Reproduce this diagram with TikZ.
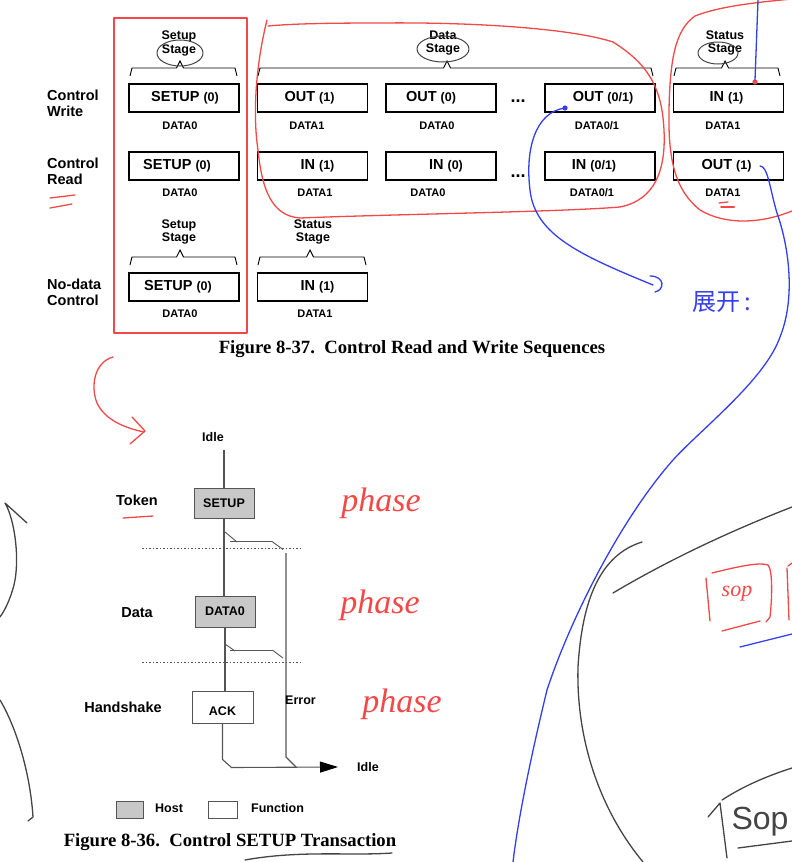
\documentclass[tikz,border=0pt]{standalone}
\usepackage{fontspec}
\setmainfont{Liberation Sans}
\newfontfamily\capfont{Liberation Serif}
\newfontfamily\cjkfont{Noto Sans CJK SC}
\usetikzlibrary{arrows.meta, positioning}

\definecolor{penred}{RGB}{242,72,72}
\definecolor{penblue}{RGB}{52,62,238}
\definecolor{pengrey}{RGB}{68,68,68}
\definecolor{hostgrey}{RGB}{200,200,200}
\definecolor{wiregrey}{RGB}{85,85,85}

\newcommand{\fs}[1]{\fontsize{#1}{#1}\selectfont}
\newcommand{\sm}[1]{{\fs{12.5}#1}}
% stage brace: left x, right x, peak x, top y
\newcommand{\stagebrace}[4]{%
  \draw[brace] (#1,#4+8) -- (#1+2,#4) -- (#3-3.5,#4) -- (#3,#4-7) -- (#3+3.5,#4) -- (#2-2,#4) -- (#2,#4+8);}

\tikzset{
  pkt/.style={draw, line width=1.8pt, minimum width=110pt, minimum height=28.5pt, inner sep=0pt},
  pkttxt/.style={font=\bfseries\fs{14.5}, inner sep=0pt},
  pid/.style={font=\bfseries\fs{11}, inner sep=0pt},
  rowlab/.style={font=\bfseries\fontsize{14.5}{16}\selectfont, align=left, anchor=west, inner sep=0pt},
  stagelab/.style={font=\bfseries\fontsize{12.5}{13.5}\selectfont, align=center, inner sep=0pt},
  brace/.style={line width=0.9pt},
  hostbox/.style={draw=wiregrey, line width=1pt, fill=hostgrey, minimum width=60pt, minimum height=30pt, inner sep=0pt, font=\bfseries\fs{12.5}},
  funcbox/.style={hostbox, fill=white},
  wire/.style={draw=wiregrey, line width=1.1pt},
  phaselab/.style={font=\bfseries\fs{14.5}, inner sep=0pt},
  smalllab/.style={font=\bfseries\fs{12.5}, inner sep=0pt},
  ink/.style={line width=1.3pt, line cap=round, line join=round},
  scrawl/.style={font=\capfont\itshape\fs{34}, inner sep=0pt}
}

\begin{document}
\begin{tikzpicture}[x=1pt,y=-1pt]
  \useasboundingbox (0,0) rectangle (792,862);

  % Figure 8-37
  \node[rowlab] (lcw) at (47,103) {Control\\Write};
  \node[rowlab] (lcr) at (47,171) {Control\\Read};
  \node[rowlab] (lnd) at (47,292) {No-data\\Control};

  \node[stagelab] (ss1) at (179,43.5) {Setup\\Stage};
  \node[stagelab] (ds1) at (443,43) {Data\\Stage};
  \node[stagelab] (st1) at (725,43) {Status\\Stage};
  \node[stagelab] (ss3) at (179,232) {Setup\\Stage};
  \node[stagelab] (st3) at (313,232) {Status\\Stage};

  \stagebrace{130}{237}{180}{68}
  \stagebrace{258}{653}{447}{68}
  \stagebrace{674}{780}{725}{68}
  \stagebrace{130}{237}{180}{257}
  \stagebrace{258}{366}{310}{257}

  % control write
  \node[pkt, label={[pkttxt, xshift=1pt]center:SETUP \sm{(0)}}] (cw1) at (184,98) {};
  \node[pkt, label={[pkttxt, xshift=-3pt]center:OUT \sm{(1)}}] (cw2) at (312.5,98) {};
  \node[pkt, label={[pkttxt, xshift=-10pt]center:OUT \sm{(0)}}] (cw3) at (441,98) {};
  \node[pkt, label={[pkttxt, xshift=3pt]center:OUT \sm{(0/1)}}] (cw4) at (600,98) {};
  \node[pkt, label={[pkttxt, xshift=-2pt]center:IN \sm{(1)}}] (cw5) at (728.5,98) {};
  \node[font=\bfseries\fs{18}, inner sep=0pt] (cwdots) at (518,101) {...};
  \node[pid] (cw1d) at (180,126) {DATA0};
  \node[pid] (cw2d) at (307,126) {DATA1};
  \node[pid] (cw3d) at (437,126) {DATA0};
  \node[pid] (cw4d) at (597,126) {DATA0/1};
  \node[pid] (cw5d) at (723,126) {DATA1};

  % control read
  \node[pkt, label={[pkttxt, xshift=-7pt]center:SETUP \sm{(0)}}] (cr1) at (184,166) {};
  \node[pkt, label={[pkttxt, xshift=5pt]center:IN \sm{(1)}}] (cr2) at (312.5,166) {};
  \node[pkt, label={[pkttxt, xshift=5pt]center:IN \sm{(0)}}] (cr3) at (441,166) {};
  \node[pkt, label={[pkttxt, xshift=-6pt]center:IN \sm{(0/1)}}] (cr4) at (600,166) {};
  \node[pkt, label={[pkttxt, xshift=-2pt]center:OUT \sm{(1)}}] (cr5) at (728.5,166) {};
  \node[font=\bfseries\fs{18}, inner sep=0pt] (crdots) at (518,176) {...};
  \node[pid] (cr1d) at (180,193) {DATA0};
  \node[pid] (cr2d) at (315,193) {DATA1};
  \node[pid] (cr3d) at (428,193) {DATA0};
  \node[pid] (cr4d) at (592,193) {DATA0/1};
  \node[pid] (cr5d) at (723,193) {DATA1};

  % no-data control
  \node[pkt, label={[pkttxt, xshift=-6pt]center:SETUP \sm{(0)}}] (nd1) at (184,287) {};
  \node[pkt, label={[pkttxt, xshift=5pt]center:IN \sm{(1)}}] (nd2) at (312.5,287) {};
  \node[pid] (nd1d) at (180,314) {DATA0};
  \node[pid] (nd2d) at (315,314) {DATA1};

  \node[font=\capfont\bfseries\fs{18.7}, inner sep=0pt] (cap37) at (412,349) {Figure 8-37.\ \ Control Read and Write Sequences};

  % Figure 8-36
  \node[smalllab] (idle1) at (213,437) {Idle};
  \coordinate (start) at (224,450);
  \node[hostbox] (setup) at (224,503) {SETUP};
  \node[hostbox, minimum height=31pt] (data0) at (225,611.5) {DATA0};
  \node[funcbox, minimum width=61pt, minimum height=32pt, text height=17pt, text depth=0pt] (ack) at (222.5,707) {ACK};
  \node[phaselab] (tok) at (137,500) {Token};
  \node[phaselab] (dat) at (137,613) {Data};
  \node[phaselab] (hs) at (123,707) {Handshake};

  \draw[wire] (start) -- (setup.north);
  \draw[wire] (setup.south) -- (setup.south |- data0.north);
  \draw[wire] (data0.south) -- (data0.south |- ack.north);

  \draw[wire, line width=0.9pt] (225,532) -- (237,542);
  \draw[wire, line width=0.9pt] (230,541.5) -- (272,541.5) -- (283,549.5);
  \draw[wire, line width=0.9pt] (225,644) -- (235,651);
  \draw[wire, line width=0.9pt] (230,650.5) -- (273,650.5) -- (283,658);

  \coordinate (errtop) at (286,553);
  \coordinate (errbot) at (286,757);
  \coordinate (tip) at (338,767);
  \draw[wire] (errtop) -- (errbot) -- ++(10,10);
  \draw[wire, -{Triangle[length=18pt, width=11pt, black]}] (ack.south) -- ++(0,36) -- ++(9,8) -- (tip);
  \node[smalllab, anchor=west] (err) at (285,700) {Error};
  \node[smalllab, anchor=west] (idle2) at (357,767) {Idle};

  \draw[wiregrey, line width=0.9pt, dash pattern=on 1.5pt off 2pt] (142,548) -- (300,548);
  \draw[wiregrey, line width=0.9pt, dash pattern=on 1.5pt off 2pt] (142,662) -- (300,662);

  \node[hostbox, minimum width=27pt, minimum height=17pt] (hostkey) at (129.5,809.5) {};
  \node[smalllab, anchor=west] (hostlab) at (155,808) {Host};
  \node[funcbox, minimum width=29pt, minimum height=17pt] (funckey) at (222.5,809.5) {};
  \node[smalllab, anchor=west] (funclab) at (251,808) {Function};

  \node[font=\capfont\bfseries\fs{18.7}, inner sep=0pt] (cap36) at (230,842) {Figure 8-36.\ \ Control SETUP Transaction};

  % pen notes, red
  \draw[ink, penred] (114,18) rectangle (247,333);
  \draw[ink, penred] (267,20) .. controls (257,60) and (252,110) .. (258,150) .. controls (262,190) and (272,216) .. (300,218)
    .. controls (400,214) and (560,212) .. (620,207) .. controls (655,200) and (666,170) .. (664,130)
    .. controls (662,90) and (650,65) .. (613,42) .. controls (570,28) and (470,22) .. (380,23)
    .. controls (320,23) and (290,24) .. (268,26);
  \draw[ink, penred] (792,-1) .. controls (760,2) and (720,6) .. (695,16) .. controls (675,30) and (670,60) .. (669,110)
    .. controls (668,160) and (675,190) .. (700,210) .. controls (725,225) and (760,224) .. (792,211);
  \draw[ink, penred] (50,198) -- (75,195);
  \draw[ink, penred] (50,208) -- (72,204);
  \draw[ink, penred] (123,518) -- (153,516);
  \draw[ink, penred] (719,203) -- (728,202);
  \draw[ink, penred, line width=2pt] (721,207) -- (734,207);
  \draw[ink, penred] (113,357) .. controls (95,362) and (90,385) .. (97,403) .. controls (105,420) and (125,428) .. (144,432);
  \draw[ink, penred] (132,417) -- (145,431) -- (130,444);
  \node[scrawl, text=penred] (ph1) at (381,503) {phase};
  \node[scrawl, text=penred] (ph2) at (380,605) {phase};
  \node[scrawl, text=penred] (ph3) at (402,704) {phase};
  \draw[ink, penred] (706,578) -- (710,621);
  \draw[ink, penred] (712,573) .. controls (740,566) and (760,562) .. (768,565) .. controls (773,570) and (772,600) .. (770,617) -- (766,622);
  \draw[ink, penred] (722,631) -- (760,621);
  \draw[ink, penred] (787,568) -- (789,620);
  \draw[ink, penred] (788,566) -- (792,563);
  \node[font=\capfont\itshape\fs{22}, text=penred, inner sep=0pt] (sop1) at (737,594) {sop};
  \fill[penred] (755,82) circle (2.6pt);

  % pen notes, blue
  \draw[ink, penblue] (758,0) .. controls (757,40) .. (755,80);
  \fill[penblue] (565,108) circle (2.6pt);
  \draw[ink, penblue] (565,108) .. controls (535,112) and (525,150) .. (530,190) .. controls (535,235) and (580,255) .. (653,285);
  \draw[ink, penblue] (650,276) .. controls (665,276) and (665,290) .. (655,292);
  \node[font=\cjkfont\fs{24}, text=penblue, inner sep=0pt] (zk) at (722,302) {展开\,:};
  \draw[ink, penblue] (760,166) .. controls (768,166) and (770,190) .. (777,213) .. controls (790,250) and (795,300) .. (780,337)
    .. controls (765,380) and (700,430) .. (673,460) .. controls (620,520) and (570,620) .. (547,690)
    .. controls (530,760) and (518,820) .. (513,862);
  \draw[ink, penblue] (740,647) -- (792,634);

  % pen notes, grey
  \draw[ink, pengrey, line width=1pt] (180,53) ellipse (23pt and 13pt);
  \draw[ink, pengrey, line width=1pt] (443,49) ellipse (26pt and 13pt);
  \draw[ink, pengrey, line width=1pt] (718,53) ellipse (20pt and 11pt);
  \draw[ink, pengrey] (642,542) .. controls (600,555) and (582,600) .. (578,667) .. controls (576,740) and (600,810) .. (643,862);
  \draw[ink, pengrey] (613,593) .. controls (660,565) and (720,535) .. (792,507);
  \draw[ink, pengrey] (27,523) -- (5,503) .. controls (15,520) and (20,560) .. (14,585) .. controls (10,600) and (5,610) .. (0,617);
  \draw[ink, pengrey] (0,700) .. controls (15,725) and (30,770) .. (33,817) -- (28,821);
  \draw[ink, pengrey] (245,860) .. controls (300,850) and (350,856) .. (392,853);
  \draw[ink, pengrey] (708,817) -- (720,803) -- (727,858);
  \draw[ink, pengrey] (722,800) .. controls (745,785) and (770,775) .. (792,768);
  \draw[ink, pengrey] (738,848) -- (792,841);
  \node[font=\fs{32}, text=pengrey, inner sep=0pt] (sop2) at (760,822) {Sop};
\end{tikzpicture}
\end{document}
